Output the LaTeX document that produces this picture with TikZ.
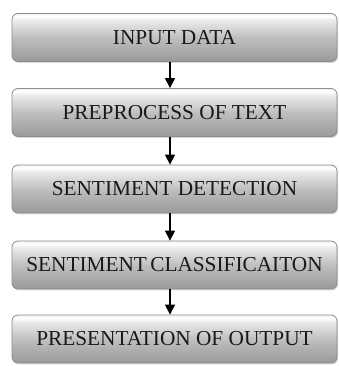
\documentclass[tikz,border=0pt]{standalone}
\usepackage{fontspec}
\setmainfont{Liberation Serif}
\usetikzlibrary{shadows,arrows.meta}
\pgfdeclareverticalshading{stageshade}{100bp}{
  color(0bp)=(black!45); color(25bp)=(black!40); color(50bp)=(black!25);
  color(68bp)=(black!8); color(72bp)=(white); color(75bp)=(black!5); color(100bp)=(black!15)}
\begin{document}
\begin{tikzpicture}[x=1pt,y=1pt,
  stage/.style={rounded corners=6pt, draw=black!45, line width=0.8pt, shading=stageshade,
    drop shadow={shadow xshift=1pt,shadow yshift=-1.5pt,opacity=0.3},
    minimum width=325pt, minimum height=48pt, inner sep=0pt, font=\fontsize{21.3}{23}\selectfont, text=black!90},
  flow/.style={-{Triangle[length=10pt,width=10pt]}, line width=1.3pt, black}]
\useasboundingbox[fill=white] (0,0) rectangle (339,366);
\node[stage] (n1) at (174.5,328.5) {INPUT DATA};
\node[stage] (n2) at (174.5,253.5) {PREPROCESS OF TEXT};
\node[stage] (n3) at (174.5,177) {SENTIMENT DETECTION};
\node[stage] (n4) at (174.5,101) {SENTIMENT\kern-2pt\ CLASSIFICAITON};
\node[stage] (n5) at (174.5,27) {PRESENTATION OF OUTPUT};
\foreach \a/\b in {n1/n2,n2/n3,n3/n4,n4/n5}
  \draw[flow] ([xshift=-4.5pt]\a.south) -- ([xshift=-4.5pt]\b.north);
\end{tikzpicture}
\end{document}
